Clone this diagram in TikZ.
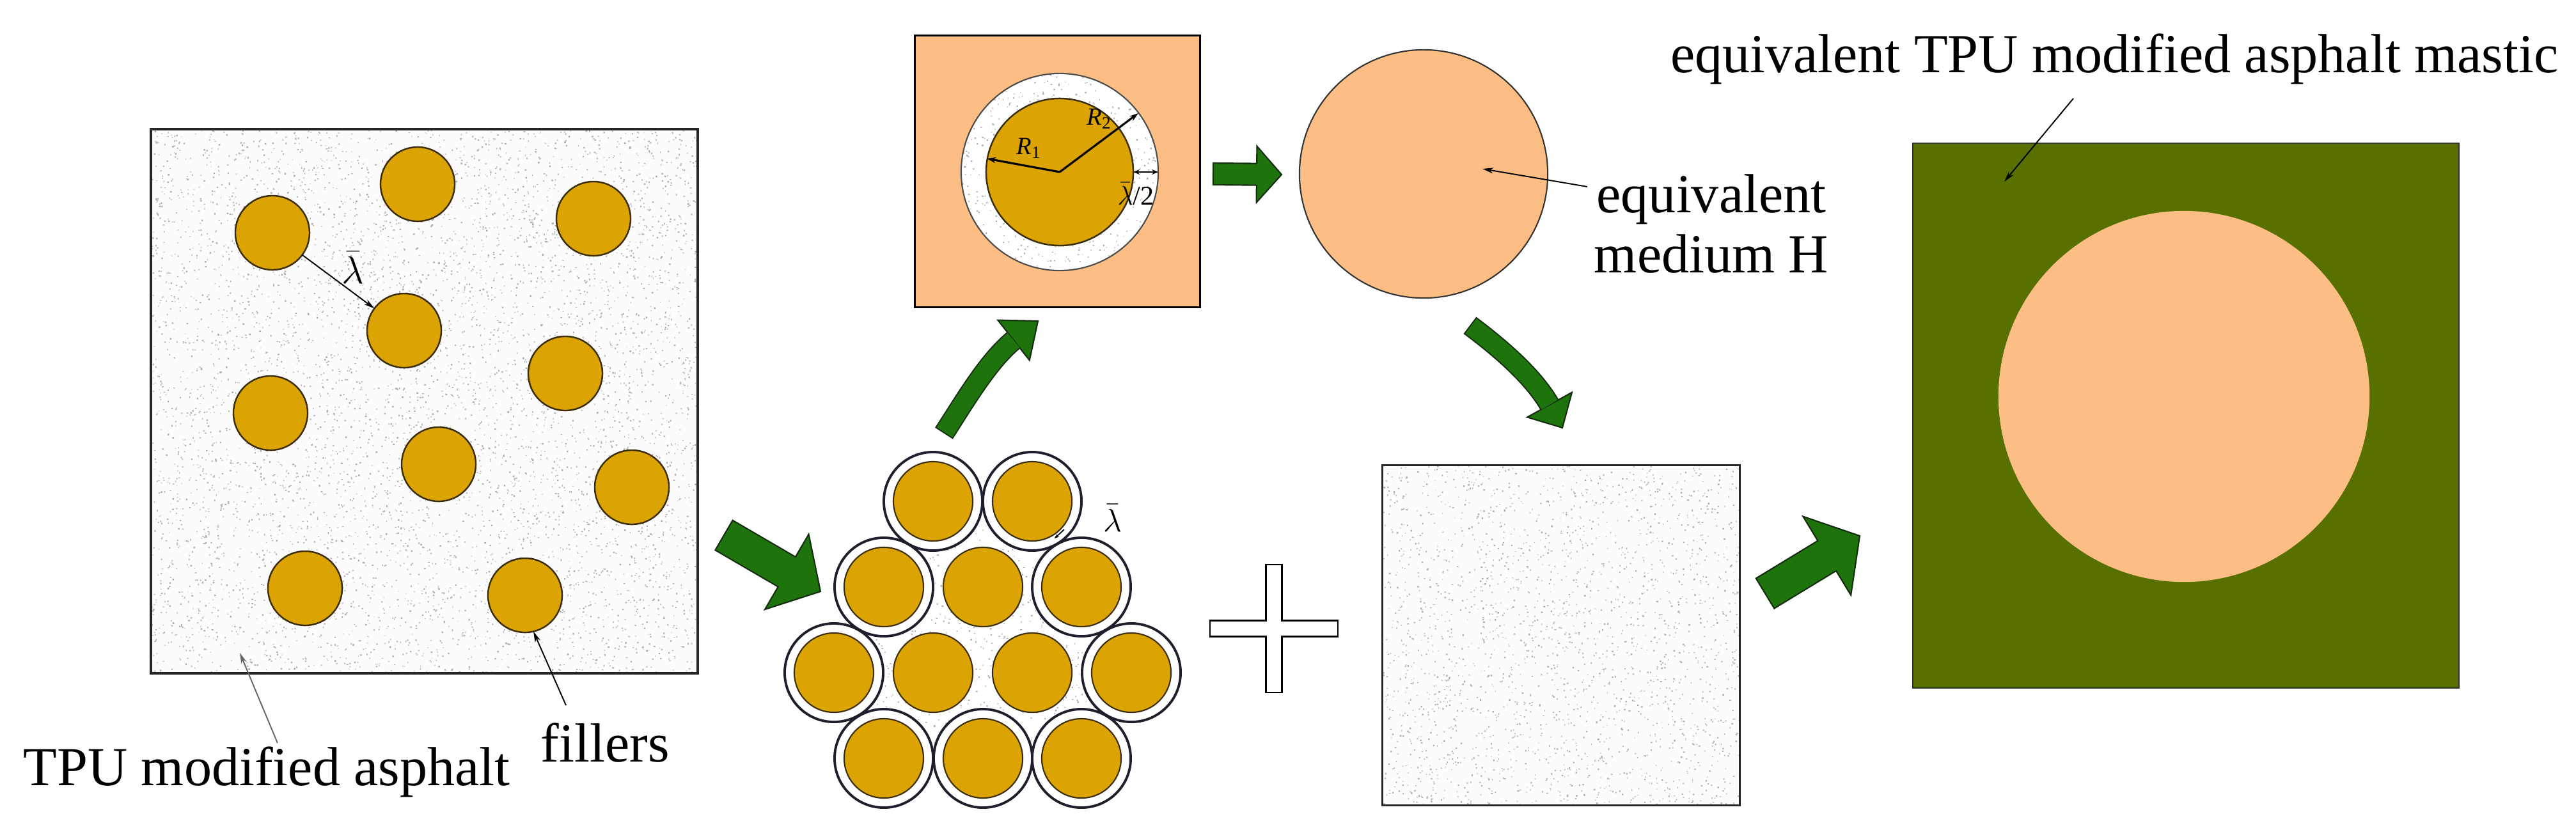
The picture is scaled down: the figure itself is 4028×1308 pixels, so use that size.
\documentclass[tikz,border=0pt]{standalone}
\usepackage{fontspec}
\setmainfont{Liberation Serif}
\newfontfamily\tnr{Liberation Serif}
\usetikzlibrary{arrows.meta,calc}
\definecolor{gold}{RGB}{219,164,2}
\definecolor{goldline}{RGB}{60,45,10}
\definecolor{peach}{RGB}{253,190,133}
\definecolor{olive}{RGB}{87,112,0}
\definecolor{agreen}{RGB}{30,115,12}
\definecolor{aline}{RGB}{20,45,15}
\definecolor{ringline}{RGB}{30,30,45}
\definecolor{speckc}{RGB}{175,175,175}
\definecolor{speckbg}{RGB}{252,252,252}
\newcommand{\speckle}[5]{%
  \foreach \c in {1,...,#5}{%
    \fill[speckc] \foreach \k in {1,...,400}{ ({#1+rnd*#3},{#2+rnd*#4}) rectangle ++({0.9+1.8*rnd},{0.9+1.8*rnd}) };}}
\newcommand{\blockarr}[5]{%
  \coordinate (#1base) at ($(#2)!#5!(#1)$);
  \filldraw[bigarrow] ($(#1)!#3!90:(#2)$) -- ($(#1base)!#3!90:(#2)$) -- ($(#1base)!#4!90:(#2)$) -- (#2)
    -- ($(#1base)!#4!-90:(#2)$) -- ($(#1base)!#3!-90:(#2)$) -- ($(#1)!#3!-90:(#2)$) -- cycle;}
\begin{document}
\begin{tikzpicture}[x=0.01cm,y=-0.01cm,
  pointer/.style={draw=black, line width=0.55pt, -{Stealth[length=0.17cm,width=0.09cm]}},
  dimarrow/.style={draw=black, line width=0.9pt, -{Stealth[length=0.14cm,width=0.09cm]}},
  filler/.style={circle, draw=goldline, fill=gold, line width=0.7pt, minimum size=1.16cm, inner sep=0pt, outer sep=0pt},
  grain/.style={circle, draw=goldline, fill=gold, line width=0.6pt, minimum size=1.24cm, inner sep=0pt, outer sep=0pt},
  ring/.style={circle, draw=ringline, fill=white, line width=1.1pt, minimum size=1.54cm, inner sep=0pt, outer sep=0pt},
  boxborder/.style={draw=black!85, line width=0.9pt},
  bigarrow/.style={fill=agreen, draw=aline, line width=0.6pt},
  lbl/.style={font=\tnr\fontsize{24.5pt}{29pt}\selectfont, inner sep=0pt},
]
\useasboundingbox (0,0) rectangle (4028,1308);
\pgfmathsetseed{11}

% ---------------- left box: TPU modified asphalt with fillers
\node[fill=speckbg, minimum width=8.53cm, minimum height=8.49cm, inner sep=0pt] (leftbox) at (663.5,627.5) {};
\begin{scope}
  \clip (leftbox.south west) rectangle (leftbox.north east);
  \speckle{237}{203}{853}{849}{16}
\end{scope}
\draw[boxborder] (leftbox.south west) rectangle (leftbox.north east);
\node[filler] (f1) at (426,364) {};
\node[filler] (f2) at (653,288) {};
\node[filler] (f3) at (928,342) {};
\node[filler] (f4) at (632,517) {};
\node[filler] (f5) at (884,584) {};
\node[filler] (f6) at (423,646) {};
\node[filler] (f7) at (686,726) {};
\node[filler] (f8) at (988,762) {};
\node[filler] (f9) at (477,920) {};
\node[filler] (f10) at (821,931) {};
\draw[pointer] (f1) -- (f4);
\node[font=\tnr\fontsize{17pt}{20pt}\selectfont, inner sep=0pt] (lamA) at (552,418) {$\bar{\lambda}$};

\node[lbl, anchor=base west] (tpu) at (36,1228) {TPU modified asphalt};
\node[lbl, anchor=base west] (fillers) at (845,1191) {fillers};
\coordinate (tpuP) at (434,1162);
\coordinate (tpuQ) at (375,1021);
\draw[pointer, draw=black!60] (tpuP) -- (tpuQ);
\coordinate (fillP) at (885,1103);
\draw[pointer] (fillP) -- (f10.-77);

% ---------------- arrow to cluster
\coordinate (a1s) at (1132,837);
\coordinate (a1t) at (1283,925);
\blockarr{a1s}{a1t}{0.27cm}{0.68cm}{0.61cm}

% ---------------- hexagonal cluster
\begin{scope}
  \clip (1459,784) -- (1614,784) -- (1691,918) -- (1769,1052) -- (1691,1186) -- (1382,1186) -- (1304,1052) -- (1382,918) -- cycle;
  \speckle{1300}{780}{470}{410}{3}
\end{scope}
\foreach \n/\p in {r1/{(1459,784)}, r2/{(1614,784)}, r3/{(1382,918)}, r4/{(1691,918)}, r5/{(1304,1052)}, r6/{(1769,1052)}, r7/{(1382,1186)}, r8/{(1537,1186)}, r9/{(1691,1186)}}{
  \node[ring] (\n) at \p {};
  \node[grain] (g\n) at \p {};
}
\node[grain] (gi1) at (1537,918) {};
\node[grain] (gi2) at (1459,1052) {};
\node[grain] (gi3) at (1614,1052) {};
\node[font=\tnr\fontsize{14pt}{17pt}\selectfont, inner sep=0pt] (lamB) at (1740,810) {$\bar{\lambda}$};
\coordinate (lamBs) at (1664,828);
\coordinate (lamBt) at (1649,842);
\draw[line width=0.5pt, -{Stealth[length=0.07cm,width=0.06cm]}] (lamBs) -- (lamBt);

% ---------------- curved arrow up to unit cell
\coordinate (cu0) at (1477,676);
\coordinate (cub) at (1585,532);
\coordinate (cut) at (1623,502);
\draw[aline, line width=0.33cm, shorten <=-0.02cm] (cu0) .. controls (1510,625) and (1545,565) .. (cub);
\filldraw[bigarrow] ($(cub)!0.40cm!90:(cut)$) -- (cut) -- ($(cub)!0.40cm!-90:(cut)$) -- cycle;
\draw[agreen, line width=0.29cm] (cu0) .. controls (1510,625) and (1545,565) .. (cub);

% ---------------- unit cell
\node[fill=peach, minimum width=4.45cm, minimum height=4.24cm, inner sep=0pt] (cell) at (1653.5,268) {};
\draw[boxborder, draw=black] (cell.south west) rectangle (cell.north east);
\node[circle, fill=white, minimum size=3.08cm, inner sep=0pt, outer sep=0pt] (shell) at (1657,269) {};
\begin{scope}
  \clip (1657,269) circle[radius=1.54cm];
  \speckle{1500}{112}{315}{315}{2}
\end{scope}
\draw[draw=black!70, line width=0.6pt] (shell.center) circle[radius=1.54cm];
\node[circle, draw=goldline, fill=gold, line width=0.7pt, minimum size=2.30cm, inner sep=0pt, outer sep=0pt] (core) at (1657,269) {};
\coordinate (R1e) at (1543,248);
\coordinate (R2e) at (1780,177);
\draw[dimarrow] (core.center) -- (R1e);
\draw[dimarrow] (core.center) -- (R2e);
\draw[line width=0.8pt, {Stealth[length=0.1cm,width=0.08cm]}-{Stealth[length=0.1cm,width=0.08cm]}] (core.east) -- (shell.east);
\node[font=\tnr\fontsize{11pt}{13pt}\selectfont, inner sep=0pt] (R1l) at (1609,232) {\textit{R}\textsubscript{1}};
\node[font=\tnr\fontsize{11pt}{13pt}\selectfont, inner sep=0pt] (R2l) at (1719,186) {\textit{R}\textsubscript{2}};
\node[font=\tnr\fontsize{12pt}{14pt}\selectfont, inner sep=0pt] (lamC) at (1776,303) {$\bar{\lambda}$/2};

% ---------------- arrow to equivalent medium
\coordinate (a2s) at (1897,272);
\coordinate (a2t) at (2004,273);
\blockarr{a2s}{a2t}{0.17cm}{0.44cm}{0.39cm}

% ---------------- equivalent medium H
\node[circle, draw=black!80, fill=peach, line width=0.6pt, minimum size=3.88cm, inner sep=0pt] (hcirc) at (2226,272) {};
\node[lbl, anchor=base] (eq1) at (2676,332) {equivalent};
\node[lbl, anchor=base] (eq2) at (2676,426) {medium H};
\coordinate (eqP) at (2482,292);
\coordinate (eqQ) at (2318,264);
\draw[pointer] (eqP) -- (eqQ);

% ---------------- curved arrow down
\coordinate (cd0) at (2300,510);
\coordinate (cdb) at (2423,633);
\coordinate (cdt) at (2443,669);
\draw[aline, line width=0.33cm, shorten <=-0.02cm] (cd0) .. controls (2340,540) and (2395,585) .. (cdb);
\filldraw[bigarrow] ($(cdb)!0.40cm!90:(cdt)$) -- (cdt) -- ($(cdb)!0.40cm!-90:(cdt)$) -- cycle;
\draw[agreen, line width=0.29cm] (cd0) .. controls (2340,540) and (2395,585) .. (cdb);

% ---------------- plus sign
\filldraw[fill=white, draw=black, line width=0.8pt] (1892,970.5) -- (1979.5,970.5) -- (1979.5,883) -- (2004.5,883) -- (2004.5,970.5) -- (2092,970.5) -- (2092,995.5) -- (2004.5,995.5) -- (2004.5,1083) -- (1979.5,1083) -- (1979.5,995.5) -- (1892,995.5) -- cycle;

% ---------------- plain matrix box
\node[fill=speckbg, minimum width=5.58cm, minimum height=5.31cm, inner sep=0pt] (matrix) at (2441,993.5) {};
\begin{scope}
  \clip (matrix.south west) rectangle (matrix.north east);
  \speckle{2162}{728}{558}{531}{6}
\end{scope}
\draw[boxborder] (matrix.south west) rectangle (matrix.north east);

% ---------------- arrow to final
\coordinate (a3s) at (2760,928);
\coordinate (a3t) at (2908,838);
\blockarr{a3s}{a3t}{0.275cm}{0.72cm}{0.60cm}

% ---------------- equivalent TPU modified asphalt mastic
\node[fill=olive, draw=black!80, line width=0.6pt, minimum width=8.54cm, minimum height=8.52cm, inner sep=0pt] (mastic) at (3418,650) {};
\node[circle, fill=peach, minimum size=5.8cm, inner sep=0pt] (inclusion) at (3415,620) {};
\node[lbl, anchor=base east] (mastlbl) at (4001,113) {equivalent TPU modified asphalt mastic};
\coordinate (msP) at (3242,154);
\coordinate (msQ) at (3134,284);
\draw[pointer] (msP) -- (msQ);
\end{tikzpicture}
\end{document}
